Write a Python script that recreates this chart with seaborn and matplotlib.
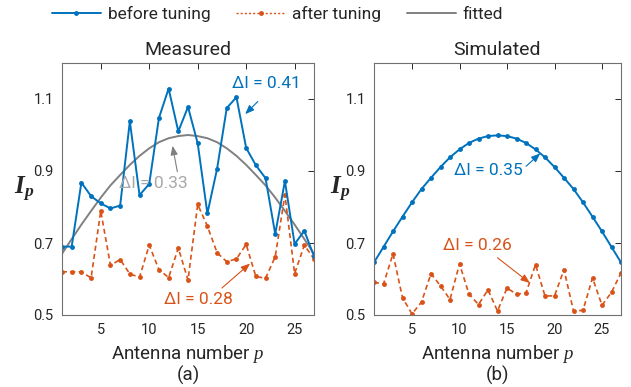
import pandas as pd
import matplotlib.pyplot as plt
import seaborn as sns
from matplotlib.lines import Line2D

antenna = list(range(1, 28))

meas_before = [0.69, 0.69, 0.868, 0.83, 0.81, 0.796, 0.804, 1.038, 0.833, 0.864,
               1.047, 1.129, 1.01, 1.078, 0.977, 0.782, 0.906, 1.075, 1.105, 0.964,
               0.916, 0.88, 0.725, 0.872, 0.697, 0.734, 0.663]
meas_after = [0.62, 0.62, 0.62, 0.603, 0.789, 0.638, 0.654, 0.614, 0.605, 0.694,
              0.626, 0.604, 0.686, 0.597, 0.807, 0.747, 0.673, 0.648, 0.656, 0.696,
              0.607, 0.602, 0.662, 0.834, 0.615, 0.694, 0.656]
meas_fitted = [0.67, 0.711, 0.751, 0.789, 0.826, 0.86, 0.889, 0.917, 0.942, 0.963,
               0.98, 0.991, 0.997, 1.0, 0.997, 0.991, 0.98, 0.963, 0.942, 0.917,
               0.889, 0.86, 0.826, 0.789, 0.751, 0.711, 0.67]

sim_before = [0.646, 0.689, 0.732, 0.773, 0.813, 0.85, 0.881, 0.911, 0.938, 0.96,
              0.978, 0.99, 0.997, 0.999, 0.997, 0.99, 0.978, 0.96, 0.938, 0.911,
              0.881, 0.85, 0.813, 0.773, 0.732, 0.689, 0.646]
sim_after = [0.591, 0.586, 0.67, 0.548, 0.503, 0.536, 0.615, 0.581, 0.543, 0.642,
             0.558, 0.529, 0.57, 0.511, 0.575, 0.558, 0.561, 0.64, 0.553, 0.553,
             0.626, 0.511, 0.513, 0.603, 0.527, 0.563, 0.617]

BLUE = '#0072BD'
ORANGE = '#D95319'
GRAY = '#808080'
TXT = '#262626'

sns.set_theme(style='white')
plt.rcParams['font.family'] = ['Roboto', 'DejaVu Sans']
plt.rcParams['mathtext.fontset'] = 'custom'
plt.rcParams['mathtext.it'] = 'Liberation Serif:italic'
plt.rcParams['mathtext.bf'] = 'Liberation Serif:italic:bold'
plt.rcParams['mathtext.rm'] = 'Liberation Serif'

fig = plt.figure(figsize=(6.31, 3.87), dpi=100)
ax1 = fig.add_axes([62 / 631, 72 / 387, 252 / 631, 252 / 387])
ax2 = fig.add_axes([374 / 631, 72 / 387, 247 / 631, 252 / 387])

meas = pd.DataFrame({'p': antenna, 'before': meas_before, 'after': meas_after,
                     'fitted': meas_fitted})
sim = pd.DataFrame({'p': antenna, 'before': sim_before, 'after': sim_after})

sns.lineplot(data=meas, x='p', y='fitted', ax=ax1, color=GRAY, linewidth=1.4)
sns.lineplot(data=meas, x='p', y='after', ax=ax1, color=ORANGE, linewidth=1.2,
             linestyle=(0, (3, 2)), marker='o', markersize=3.5, markeredgewidth=0)
sns.lineplot(data=meas, x='p', y='before', ax=ax1, color=BLUE, linewidth=1.4,
             marker='o', markersize=3.5, markeredgewidth=0)

sns.lineplot(data=sim, x='p', y='after', ax=ax2, color=ORANGE, linewidth=1.2,
             linestyle=(0, (3, 2)), marker='o', markersize=3.5, markeredgewidth=0)
sns.lineplot(data=sim, x='p', y='before', ax=ax2, color=BLUE, linewidth=1.4,
             marker='o', markersize=3.5, markeredgewidth=0)

for ax, title, sub, lx in [(ax1, 'Measured', '(a)', -0.15),
                           (ax2, 'Simulated', '(b)', -0.135)]:
    ax.set_xlim(1, 27)
    ax.set_ylim(0.5, 1.2)
    ax.set_xticks([5, 10, 15, 20, 25])
    ax.set_yticks([0.5, 0.7, 0.9, 1.1])
    ax.tick_params(direction='in', top=True, right=True, length=4, width=0.7,
                   labelsize=10.5, colors=TXT, pad=6)
    for s in ax.spines.values():
        s.set_color('#707070')
        s.set_linewidth(0.8)
    ax.set_title(title, fontsize=14, color=TXT, pad=6)
    ax.set_xlabel('Antenna number $p$', fontsize=13.5, color=TXT, labelpad=4)
    ax.set_ylabel(r'$\mathbf{I_p}$', fontsize=18, color=TXT, rotation=0)
    ax.yaxis.set_label_coords(lx, 0.5)
    ax.yaxis.label.set_va('center')
    ax.text(0.5, -0.24, sub, transform=ax.transAxes, ha='center', va='center',
            fontsize=13.5, color=TXT)

arrow = dict(arrowstyle='-|>,head_length=0.45,head_width=0.18', lw=0.8,
             shrinkA=0, shrinkB=0)

def label(ax, txt, pos, tail, tip, color, tcolor=None):
    ax.text(pos[0], pos[1], txt, color=tcolor or color, fontsize=12.5,
            ha='center', va='center')
    ax.annotate('', xy=tip, xytext=tail, arrowprops=dict(arrow, color=color))

label(ax1, 'ΔI = 0.41', (22.1, 1.142), (21.2, 1.093), (19.9, 1.058), BLUE)
label(ax1, 'ΔI = 0.33', (10.4, 0.864), (12.9, 0.898), (12.4, 0.97), GRAY, '#a8a8a8')
label(ax1, 'ΔI = 0.28', (15.1, 0.544), (17.5, 0.575), (20.4, 0.643), ORANGE)
label(ax2, 'ΔI = 0.35', (13.0, 0.902), (17.0, 0.913), (18.5, 0.949), BLUE)
label(ax2, 'ΔI = 0.26', (11.9, 0.692), (14.0, 0.659), (17.4, 0.589), ORANGE)

handles = [
    Line2D([], [], color=BLUE, lw=1.4, marker='o', markersize=3.5, markeredgewidth=0),
    Line2D([], [], color=ORANGE, lw=1.0, linestyle=(0, (1.5, 1.5)), marker='o',
           markersize=3.5, markeredgewidth=0),
    Line2D([], [], color=GRAY, lw=1.4),
]
fig.legend(handles, ['before tuning', 'after tuning', 'fitted'], loc='center',
           bbox_to_anchor=(0.44, 0.963), ncol=3, frameon=False, fontsize=12.5,
           handlelength=2.8, columnspacing=1.5, handletextpad=0.4,
           labelcolor=TXT)

fig.savefig('out.png', dpi=100)
